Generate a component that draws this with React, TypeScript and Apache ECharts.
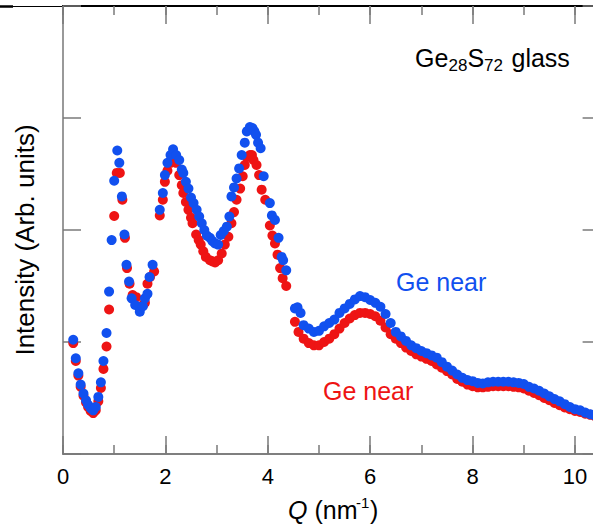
import React, { useEffect, useRef } from "react";
import * as echarts from "echarts";

// ---- Data (Q in nm^-1, intensity in arb. units) ----
const blueQ = [
  0.2, 0.25, 0.3, 0.345, 0.4, 0.45, 0.49, 0.54, 0.59, 0.64, 0.69, 0.74, 0.79, 0.85, 0.9, 0.95,
  1.0, 1.06, 1.1, 1.15, 1.2, 1.24, 1.29, 1.34, 1.41, 1.5, 1.56, 1.6, 1.65, 1.69, 1.75,
  1.89, 1.95, 1.99, 2.04, 2.1, 2.15, 2.21, 2.27, 2.32, 2.35, 2.4, 2.45, 2.5, 2.55, 2.61, 2.66,
  2.71, 2.76, 2.81, 2.87, 2.92, 2.97, 3.03, 3.08, 3.14, 3.2, 3.25, 3.29, 3.34, 3.39, 3.44, 3.49,
  3.55, 3.59, 3.65, 3.7, 3.74, 3.77, 3.81, 3.86, 3.92, 4.04, 4.08, 4.14, 4.21, 4.27, 4.3, 4.36,
  4.53, 4.58, 4.64, 4.7, 4.8, 4.9, 5.0, 5.1, 5.2, 5.3, 5.4, 5.5, 5.6, 5.7, 5.8, 5.9, 6.0, 6.1,
  6.2, 6.3, 6.4, 6.5, 6.6, 6.7, 6.8, 6.9, 7.0, 7.1, 7.2, 7.3, 7.4, 7.5, 7.6, 7.7, 7.8, 7.9, 8.0,
  8.1, 8.2, 8.3, 8.4, 8.5, 8.6, 8.7, 8.8, 8.9, 9.0, 9.1, 9.2, 9.3, 9.4, 9.5, 9.6, 9.7, 9.8, 9.9,
  10.0, 10.1, 10.2, 10.3, 10.4, 10.5,
];
const blueI = [
  1.02, 0.855, 0.72, 0.62, 0.54, 0.48, 0.44, 0.41, 0.39, 0.42, 0.51, 0.64, 0.83, 1.08, 1.45, 1.91,
  2.44, 2.71, 2.6, 2.3, 1.96, 1.69, 1.54, 1.39, 1.33, 1.27, 1.32, 1.39, 1.43, 1.58, 1.69,
  2.18, 2.33, 2.49, 2.6, 2.67, 2.72, 2.67, 2.625, 2.54, 2.51, 2.43, 2.37, 2.29, 2.24, 2.18, 2.12,
  2.06, 2.0, 1.95, 1.93, 1.9, 1.88, 1.87, 1.955, 1.99, 2.03, 2.12, 2.3, 2.38, 2.46, 2.55, 2.67,
  2.78, 2.88, 2.92, 2.91, 2.88, 2.85, 2.78, 2.73, 2.48, 2.24, 2.13, 2.09, 1.93, 1.76, 1.73, 1.64,
  1.3, 1.31, 1.26, 1.15, 1.12, 1.09, 1.1, 1.14, 1.17, 1.2, 1.26, 1.3, 1.34, 1.38, 1.41, 1.4, 1.375, 1.35,
  1.315, 1.25, 1.17, 1.09, 1.05, 1.01, 0.97, 0.945, 0.92, 0.9, 0.88, 0.86, 0.82, 0.78, 0.745, 0.71, 0.68, 0.66, 0.65,
  0.635, 0.63, 0.64, 0.645, 0.645, 0.645, 0.645, 0.64, 0.635, 0.625, 0.6, 0.585, 0.565, 0.54, 0.515, 0.49, 0.47, 0.445, 0.42,
  0.4, 0.39, 0.37, 0.355, 0.34, 0.32,
];

const redQ = [
  0.2, 0.25, 0.3, 0.345, 0.4, 0.45, 0.49, 0.54, 0.59, 0.64, 0.69, 0.74, 0.79, 0.85, 0.9,
  1.0, 1.05, 1.11, 1.16, 1.21, 1.25, 1.3, 1.36, 1.43, 1.5, 1.56, 1.6, 1.65, 1.7, 1.78,
  1.89, 1.95, 1.99, 2.04, 2.1, 2.15, 2.21, 2.27, 2.32, 2.35, 2.4, 2.45, 2.5, 2.53, 2.6, 2.65,
  2.69, 2.74, 2.79, 2.87, 2.92, 2.97, 3.03, 3.1, 3.16, 3.23, 3.29, 3.34, 3.39, 3.46, 3.51, 3.55,
  3.59, 3.65, 3.69, 3.72, 3.78, 3.83, 3.88, 3.95, 4.04, 4.09, 4.14, 4.19, 4.24, 4.29, 4.36,
  4.53, 4.6, 4.7, 4.8, 4.9, 5.0, 5.1, 5.2, 5.3, 5.4, 5.5, 5.6, 5.7, 5.8, 5.9, 6.0, 6.1,
  6.2, 6.3, 6.4, 6.5, 6.6, 6.7, 6.8, 6.9, 7.0, 7.1, 7.2, 7.3, 7.4, 7.5, 7.6, 7.7, 7.8, 7.9, 8.0,
  8.1, 8.2, 8.3, 8.4, 8.5, 8.6, 8.7, 8.8, 8.9, 9.0, 9.1, 9.2, 9.3, 9.4, 9.5, 9.6, 9.7, 9.8, 9.9,
  10.0, 10.1, 10.2, 10.3, 10.4, 10.5,
];
const redI = [
  0.99, 0.83, 0.7, 0.6, 0.52, 0.46, 0.42, 0.385, 0.365, 0.39, 0.47, 0.59, 0.76, 0.96, 1.29,
  2.125, 2.51, 2.51, 2.27, 1.93, 1.66, 1.52, 1.42, 1.4, 1.3, 1.33, 1.35, 1.52, 1.58, 1.63,
  2.13, 2.27, 2.43, 2.53, 2.6, 2.62, 2.6, 2.49, 2.4, 2.33, 2.25, 2.18, 2.11, 2.06, 1.96, 1.91,
  1.87, 1.81, 1.76, 1.73, 1.72, 1.71, 1.73, 1.79, 1.87, 1.94, 2.06, 2.16, 2.27, 2.37, 2.48, 2.58,
  2.65, 2.67, 2.67, 2.625, 2.58, 2.49, 2.36, 2.27, 2.04, 1.95, 1.88, 1.78, 1.66, 1.57, 1.5,
  1.18, 1.09, 1.03, 0.99, 0.97, 0.97, 1.0, 1.03, 1.07, 1.12, 1.17, 1.21, 1.24, 1.26, 1.26, 1.25, 1.23,
  1.19, 1.13, 1.07, 1.03, 0.99, 0.95, 0.92, 0.89, 0.87, 0.85, 0.83, 0.8, 0.77, 0.74, 0.71, 0.67, 0.645, 0.62, 0.605,
  0.595, 0.595, 0.6, 0.605, 0.605, 0.605, 0.605, 0.6, 0.595, 0.585, 0.565, 0.545, 0.525, 0.5, 0.48, 0.455, 0.435, 0.415, 0.4,
  0.385, 0.375, 0.36, 0.35, 0.335, 0.32,
];

const xMajorTicks = ["0", "2", "4", "6", "8", "10"];
const titleParts = ["Ge", "28", "S", "72", "glass"];
const seriesLabels = ["Ge near", "Ge near"];
const yAxisTitle = "Intensity (Arb. units)";

const RED = "#ee1414";
const BLUE = "#1150ef";
const FONT = "'Liberation Sans', Arial, Helvetica, sans-serif";

export default function App() {
  const ref = useRef<HTMLDivElement>(null);

  useEffect(() => {
    if (!ref.current) return;
    const chart = echarts.init(ref.current, undefined, { renderer: "svg" });

    const tickGray = "#7a7a7a";
    // the chart is wider than the window: the right border of the plot sits just off-screen
    const gridBox = { left: 63, right: 9.4, top: 6, bottom: 77, containLabel: false };
    const baseX = {
      type: "value" as const,
      min: 0,
      max: 10.5,
      splitLine: { show: false },
    };
    const tickIn = { show: true, inside: true, length: 18, lineStyle: { color: tickGray, width: 1.5 } };
    const minorIn = { show: true, inside: true, length: 9, lineStyle: { color: tickGray, width: 1.5 } };

    const option = {
      animation: false,
      backgroundColor: "#ffffff",
      grid: [gridBox, gridBox],
      xAxis: [
        {
          ...baseX,
          gridIndex: 0,
          position: "bottom",
          interval: 2,
          axisLine: { show: true, onZero: false, lineStyle: { color: "#555", width: 1.5 } },
          axisTick: tickIn,
          axisLabel: {
            show: true,
            fontSize: 22,
            color: "#000",
            fontFamily: FONT,
            margin: 11,
            formatter: (v: number) => {
              const s = String(v);
              return xMajorTicks.indexOf(s) >= 0 ? s : "";
            },
          },
        },
        {
          ...baseX,
          gridIndex: 0,
          position: "top",
          interval: 2,
          axisLine: { show: true, onZero: false, lineStyle: { color: "#000", width: 2 } },
          axisTick: tickIn,
          axisLabel: { show: false },
        },
        {
          ...baseX,
          gridIndex: 1,
          position: "bottom",
          interval: 1,
          axisLine: { show: false, onZero: false },
          axisTick: minorIn,
          axisLabel: { show: false },
        },
        {
          ...baseX,
          gridIndex: 1,
          position: "top",
          interval: 1,
          axisLine: { show: false, onZero: false },
          axisTick: minorIn,
          axisLabel: { show: false },
        },
      ],
      yAxis: [
        {
          type: "value",
          gridIndex: 0,
          min: 0,
          max: 4,
          interval: 1,
          position: "left",
          axisLine: { show: true, onZero: false, lineStyle: { color: "#999", width: 2 } },
          axisTick: tickIn,
          axisLabel: { show: false },
          splitLine: { show: false },
        },
        {
          type: "value",
          gridIndex: 0,
          min: 0,
          max: 4,
          interval: 1,
          position: "right",
          axisLine: { show: true, onZero: false, lineStyle: { color: "#999", width: 2 } },
          axisTick: tickIn,
          axisLabel: { show: false },
          splitLine: { show: false },
        },
        {
          type: "value",
          gridIndex: 1,
          min: 0,
          max: 4,
          show: false,
        },
      ],
      series: [
        {
          type: "scatter",
          name: "red",
          xAxisIndex: 0,
          yAxisIndex: 0,
          symbol: "circle",
          symbolSize: 10,
          silent: true,
          itemStyle: { color: RED, opacity: 1 },
          data: redQ.map((q, i) => [q, redI[i]]),
        },
        {
          type: "scatter",
          name: "blue",
          xAxisIndex: 0,
          yAxisIndex: 0,
          symbol: "circle",
          symbolSize: 10,
          silent: true,
          itemStyle: { color: BLUE, opacity: 1 },
          data: blueQ.map((q, i) => [q, blueI[i]]),
        },
      ],
      graphic: [
        { type: "line", silent: true, shape: { x1: 0, y1: 6.5, x2: 63, y2: 6.5 }, style: { stroke: "#000", lineWidth: 1 } },
        { type: "line", silent: true, shape: { x1: 0, y1: 6.5, x2: 13, y2: 6.5 }, style: { stroke: "#000", lineWidth: 2.5 } },
        // title
        { type: "text", silent: true, style: { text: titleParts[0], x: 415, y: 58, font: `25px ${FONT}`, fill: "#000", textAlign: "left", textVerticalAlign: "middle" } },
        { type: "text", silent: true, style: { text: titleParts[1], x: 448.6, y: 65.5, font: `17px ${FONT}`, fill: "#000", textAlign: "left", textVerticalAlign: "middle" } },
        { type: "text", silent: true, style: { text: titleParts[2], x: 467.5, y: 58, font: `25px ${FONT}`, fill: "#000", textAlign: "left", textVerticalAlign: "middle" } },
        { type: "text", silent: true, style: { text: titleParts[3], x: 484, y: 65.5, font: `17px ${FONT}`, fill: "#000", textAlign: "left", textVerticalAlign: "middle" } },
        { type: "text", silent: true, style: { text: titleParts[4], x: 511.5, y: 58, font: `25px ${FONT}`, fill: "#000", textAlign: "left", textVerticalAlign: "middle" } },
        // series labels
        { type: "text", silent: true, style: { text: seriesLabels[0], x: 396, y: 281.5, font: `25px ${FONT}`, fill: BLUE, textAlign: "left", textVerticalAlign: "middle" } },
        { type: "text", silent: true, style: { text: seriesLabels[1], x: 323, y: 390.5, font: `25px ${FONT}`, fill: RED, textAlign: "left", textVerticalAlign: "middle" } },
        // y axis title
        {
          type: "text",
          silent: true,
          x: 24.5,
          y: 240,
          rotation: Math.PI / 2,
          style: { text: yAxisTitle, x: 0, y: 0, font: `26px ${FONT}`, fill: "#000", textAlign: "center", textVerticalAlign: "middle" },
        },
        // x axis title: Q (nm^-1)
        { type: "text", silent: true, style: { text: "Q", x: 288, y: 510, font: `italic 25px ${FONT}`, fill: "#000", textAlign: "left", textVerticalAlign: "middle" } },
        { type: "text", silent: true, style: { text: " (nm", x: 307.5, y: 510, font: `25px ${FONT}`, fill: "#000", textAlign: "left", textVerticalAlign: "middle" } },
        { type: "text", silent: true, style: { text: "-1", x: 356, y: 502, font: `15px ${FONT}`, fill: "#000", textAlign: "left", textVerticalAlign: "middle" } },
        { type: "text", silent: true, style: { text: ")", x: 370, y: 510, font: `25px ${FONT}`, fill: "#000", textAlign: "left", textVerticalAlign: "middle" } },
      ],
    };

    chart.setOption(option as any);
    return () => {
      chart.dispose();
    };
  }, []);

  return (
    <div
      ref={ref}
      style={{ position: "fixed", left: 0, top: 0, width: 610, height: 531, background: "#fff" }}
    />
  );
}
